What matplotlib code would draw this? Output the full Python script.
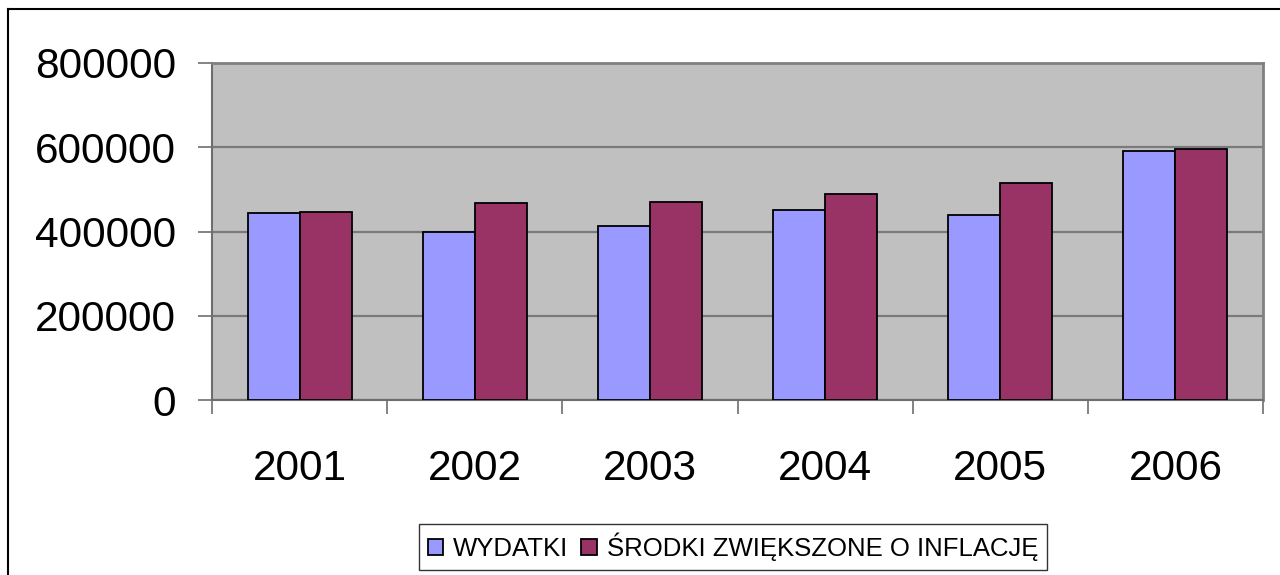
import matplotlib
matplotlib.use("Agg")
import matplotlib.pyplot as plt
import numpy as np
from matplotlib.lines import Line2D

years = ["2001", "2002", "2003", "2004", "2005", "2006"]
wydatki = [444000, 400000, 414000, 452000, 438000, 590000]
srodki = [447000, 467000, 471000, 490000, 514000, 595000]
series_names = ["WYDATKI", "ŚRODKI ZWIĘKSZONE O INFLACJĘ"]
yticks = [0, 200000, 400000, 600000, 800000]

plt.rcParams['font.family'] = ['Liberation Sans', 'DejaVu Sans']

fig = plt.figure(figsize=(12.8, 5.75), dpi=100)
ax = fig.add_axes([212/1280, 1-400/575, (1263-212)/1280, (400-63)/575])
ax.set_facecolor('#C0C0C0')

x = np.arange(len(years))
w = 0.297
ax.bar(x - w/2, wydatki, w, color='#9999FF', edgecolor='black', linewidth=1.3, zorder=3, label=series_names[0])
ax.bar(x + w/2, srodki, w, color='#993366', edgecolor='black', linewidth=1.3, zorder=3, label=series_names[1])

ax.set_xlim(-0.5, len(years) - 0.5)
ax.set_ylim(0, 800000)
ax.set_yticks(yticks)
ax.set_yticklabels([str(v) for v in yticks], fontsize=30.5)
ax.yaxis.grid(True, color='#7a7a7a', linewidth=1.6, zorder=1)
ax.set_axisbelow(True)

ax.set_xticks(x)
ax.set_xticklabels(years, fontsize=30.5)
ax.tick_params(axis='x', length=0, pad=35)
ax.set_xticks(np.arange(len(years) + 1) - 0.5, minor=True)
ax.tick_params(axis='x', which='minor', length=10, width=1.2, color='#6e6e6e', direction='out')
ax.tick_params(axis='y', length=10, width=1.2, color='#6e6e6e', direction='out', pad=16)

for s in ['left', 'bottom']:
    ax.spines[s].set_color('#6e6e6e')
    ax.spines[s].set_linewidth(1.5)
for s in ['top', 'right']:
    ax.spines[s].set_color('#808080')
    ax.spines[s].set_linewidth(2)

leg = ax.legend(loc='center', bbox_to_anchor=(733/1280, 1-547/575), bbox_transform=fig.transFigure,
                ncol=2, fontsize=18.5, frameon=True, fancybox=False, edgecolor='black',
                handlelength=0.6, handleheight=0.6, handletextpad=0.4, columnspacing=0.5,
                borderpad=0.33, borderaxespad=0)
leg.get_frame().set_linewidth(1.0)

# outer chart border (left and top visible)
fig.add_artist(Line2D([8/1280, 8/1280], [0, 1-9/575], transform=fig.transFigure, color='black', linewidth=1.5))
fig.add_artist(Line2D([8/1280, 1], [1-9/575, 1-9/575], transform=fig.transFigure, color='black', linewidth=1.5))

fig.savefig('out.png', dpi=100)
